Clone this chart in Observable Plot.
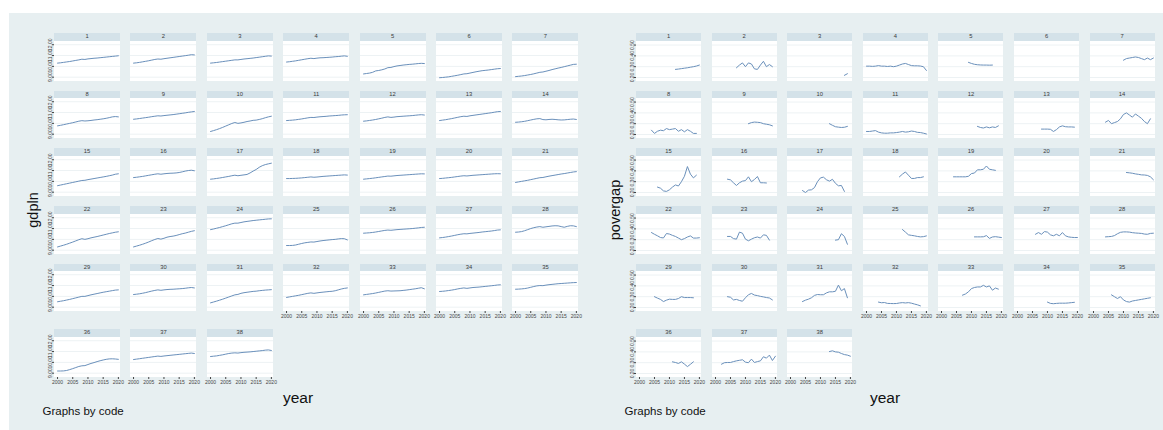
<!DOCTYPE html>
<html>
<head>
<meta charset="utf-8">
<script src="https://cdn.jsdelivr.net/npm/d3@7"></script>
<script src="https://cdn.jsdelivr.net/npm/@observablehq/plot@0.6"></script>
<style>
  body { margin: 0; background: #ffffff; font-family: "Liberation Sans", Arial, sans-serif; }
  #chart { position: relative; width: 1163px; height: 430px; overflow: hidden; background: #ffffff; }
  .bg { position: absolute; left: 9px; top: 13px; right: 0; bottom: 0; background: #e7eff1; }
  .hdr { position: absolute; background: #d4e2e9; color: #3a3a3a; font-size: 5.8px; text-align: center; }
  .ttl { position: absolute; color: #111; white-space: nowrap; line-height: 1; }
</style>
</head>
<body>
<div id="chart"><div class="bg"></div></div>
<script>
// ---- data -------------------------------------------------------------
const years = [2000, 2001, 2002, 2003, 2004, 2005, 2006, 2007, 2008, 2009, 2010,
               2011, 2012, 2013, 2014, 2015, 2016, 2017, 2018, 2019, 2020];
const codes = [1, 2, 3, 4, 5, 6, 7, 8, 9, 10, 11, 12, 13, 14, 15, 16, 17, 18, 19,
               20, 21, 22, 23, 24, 25, 26, 27, 28, 29, 30, 31, 32, 33, 34, 35, 36, 37, 38];

const yearTicks = [2000, 2005, 2010, 2015, 2020];
const gdplnTicks = [9, 10, 11, 12];
const povergapTicks = [0.2, 0.3, 0.4, 0.5];

// gdpln by code, one value per year 2000-2020
const gdpln = [
  [10.30,10.33,10.37,10.41,10.45,10.50,10.55,10.60,10.66,10.64,10.69,10.72,10.75,10.77,10.80,10.83,10.86,10.89,10.92,10.95,10.98],
  [10.30,10.33,10.37,10.42,10.47,10.52,10.58,10.64,10.68,10.66,10.71,10.75,10.79,10.83,10.87,10.91,10.95,10.99,11.03,11.08,11.06],
  [10.30,10.33,10.36,10.40,10.44,10.48,10.52,10.56,10.60,10.60,10.64,10.68,10.71,10.74,10.77,10.81,10.85,10.89,10.93,10.97,10.95],
  [10.40,10.43,10.47,10.51,10.56,10.61,10.66,10.71,10.75,10.72,10.76,10.79,10.80,10.82,10.84,10.86,10.89,10.91,10.94,10.97,10.93],
  [9.30,9.34,9.38,9.45,9.58,9.62,9.68,9.76,9.88,9.90,9.98,10.04,10.08,10.12,10.15,10.18,10.20,10.23,10.26,10.28,10.26],
  [8.95,8.97,9.00,9.03,9.08,9.13,9.18,9.24,9.30,9.32,9.38,9.44,9.50,9.55,9.60,9.63,9.66,9.70,9.74,9.78,9.80],
  [9.05,9.08,9.11,9.15,9.20,9.25,9.31,9.38,9.45,9.48,9.55,9.62,9.70,9.77,9.84,9.90,9.97,10.04,10.11,10.18,10.20],
  [9.77,9.82,9.88,9.94,10.00,10.06,10.13,10.20,10.25,10.22,10.24,10.27,10.31,10.34,10.38,10.42,10.47,10.53,10.60,10.63,10.60],
  [10.38,10.41,10.45,10.49,10.53,10.57,10.62,10.66,10.70,10.68,10.72,10.75,10.78,10.81,10.85,10.89,10.93,10.97,11.02,11.06,11.10],
  [9.25,9.33,9.42,9.52,9.63,9.75,9.87,9.99,10.08,10.00,10.04,10.10,10.17,10.22,10.28,10.30,10.36,10.43,10.52,10.60,10.66],
  [10.26,10.28,10.30,10.33,10.37,10.41,10.46,10.51,10.55,10.54,10.58,10.61,10.63,10.65,10.68,10.70,10.72,10.74,10.77,10.79,10.80],
  [10.20,10.23,10.27,10.31,10.36,10.42,10.48,10.55,10.60,10.55,10.58,10.62,10.64,10.66,10.68,10.70,10.72,10.75,10.78,10.80,10.77],
  [10.26,10.30,10.34,10.39,10.44,10.50,10.56,10.62,10.66,10.64,10.70,10.74,10.78,10.82,10.86,10.90,10.94,10.98,11.03,11.08,11.10],
  [10.10,10.12,10.15,10.19,10.25,10.31,10.37,10.42,10.44,10.35,10.33,10.36,10.38,10.36,10.33,10.31,10.32,10.35,10.38,10.40,10.36],
  [9.60,9.66,9.72,9.78,9.84,9.90,9.96,10.02,10.08,10.10,10.16,10.21,10.26,10.31,10.36,10.41,10.46,10.52,10.58,10.66,10.70],
  [10.35,10.38,10.42,10.46,10.51,10.56,10.61,10.66,10.70,10.66,10.70,10.73,10.75,10.76,10.78,10.82,10.88,10.95,11.00,11.03,10.98],
  [10.20,10.23,10.27,10.31,10.36,10.41,10.46,10.52,10.57,10.52,10.56,10.60,10.64,10.78,10.95,11.10,11.30,11.45,11.55,11.62,11.68],
  [10.26,10.26,10.27,10.28,10.30,10.32,10.35,10.38,10.41,10.38,10.40,10.43,10.46,10.48,10.50,10.52,10.54,10.56,10.58,10.60,10.58],
  [10.20,10.23,10.26,10.29,10.33,10.37,10.41,10.45,10.49,10.48,10.51,10.54,10.56,10.58,10.60,10.62,10.64,10.66,10.68,10.70,10.69],
  [10.26,10.28,10.31,10.34,10.37,10.41,10.45,10.49,10.52,10.50,10.53,10.56,10.58,10.60,10.62,10.64,10.66,10.68,10.70,10.71,10.70],
  [9.90,9.95,10.00,10.05,10.10,10.16,10.22,10.28,10.34,10.36,10.42,10.48,10.53,10.58,10.63,10.68,10.72,10.77,10.82,10.87,10.90],
  [9.30,9.38,9.46,9.55,9.65,9.75,9.86,9.97,10.06,10.00,10.06,10.14,10.20,10.26,10.33,10.40,10.47,10.54,10.60,10.66,10.70],
  [9.30,9.38,9.46,9.55,9.65,9.76,9.88,9.99,10.08,10.02,10.10,10.20,10.26,10.30,10.36,10.44,10.52,10.58,10.66,10.74,10.80],
  [10.90,10.96,11.03,11.10,11.18,11.26,11.35,11.44,11.50,11.50,11.56,11.62,11.66,11.70,11.74,11.77,11.80,11.83,11.86,11.89,11.90],
  [9.43,9.43,9.44,9.48,9.55,9.62,9.68,9.72,9.76,9.75,9.80,9.85,9.89,9.92,9.95,9.98,10.00,10.04,10.07,10.06,9.95],
  [10.57,10.59,10.61,10.64,10.68,10.73,10.78,10.83,10.86,10.84,10.87,10.90,10.92,10.94,10.96,10.98,11.00,11.03,11.06,11.10,11.12],
  [10.14,10.17,10.21,10.26,10.31,10.37,10.43,10.48,10.52,10.51,10.55,10.58,10.61,10.64,10.68,10.71,10.74,10.77,10.81,10.86,10.88],
  [10.66,10.68,10.72,10.80,10.90,11.00,11.08,11.14,11.18,11.12,11.16,11.20,11.24,11.26,11.25,11.18,11.12,11.20,11.26,11.25,11.18],
  [9.50,9.55,9.60,9.66,9.72,9.79,9.86,9.93,10.00,10.00,10.07,10.14,10.20,10.26,10.32,10.38,10.43,10.48,10.53,10.58,10.60],
  [10.17,10.20,10.24,10.29,10.35,10.42,10.49,10.55,10.60,10.56,10.60,10.63,10.65,10.66,10.68,10.70,10.72,10.75,10.79,10.82,10.78],
  [9.40,9.48,9.56,9.65,9.74,9.84,9.94,10.04,10.14,10.18,10.28,10.34,10.38,10.42,10.46,10.48,10.52,10.55,10.58,10.60,10.62],
  [9.90,9.95,10.00,10.05,10.10,10.16,10.22,10.28,10.32,10.28,10.32,10.36,10.39,10.42,10.45,10.47,10.52,10.60,10.68,10.74,10.78],
  [10.14,10.18,10.22,10.26,10.31,10.37,10.43,10.49,10.52,10.49,10.50,10.51,10.52,10.55,10.58,10.62,10.66,10.70,10.75,10.80,10.70],
  [10.45,10.47,10.50,10.54,10.58,10.63,10.69,10.74,10.78,10.74,10.78,10.82,10.84,10.86,10.89,10.92,10.95,10.98,11.01,11.05,11.07],
  [10.66,10.67,10.69,10.72,10.77,10.84,10.91,10.97,11.00,10.99,11.04,11.08,11.11,11.14,11.17,11.19,11.21,11.23,11.25,11.27,11.28],
  [9.20,9.20,9.21,9.25,9.33,9.42,9.52,9.62,9.68,9.70,9.80,9.90,9.98,10.07,10.15,10.22,10.28,10.32,10.33,10.31,10.28],
  [10.26,10.30,10.34,10.38,10.42,10.46,10.50,10.54,10.58,10.55,10.59,10.62,10.65,10.68,10.71,10.74,10.77,10.80,10.83,10.86,10.82],
  [10.54,10.57,10.60,10.65,10.70,10.76,10.82,10.86,10.88,10.86,10.90,10.93,10.95,10.97,11.00,11.03,11.06,11.09,11.13,11.15,11.10]
];

// povergap by code: first observed year, then consecutive yearly values
const povergapStart = [2012, 2007, 2018, 2000, 2009, null, 2010, 2004, 2011, 2013,
                       2000, 2012, 2008, 2004, 2006, 2004, 2004, 2011, 2004, null,
                       2011, 2004, 2004, 2015, 2012, 2011, 2006, 2004, 2005, 2004,
                       2004, 2004, 2007, 2010, 2006, 2011, 2002, 2013];
const povergap = [
  [0.275,0.278,0.282,0.286,0.290,0.295,0.300,0.306,0.315],
  [0.290,0.315,0.335,0.300,0.335,0.325,0.280,0.275,0.315,0.350,0.300,0.320,0.300],
  [0.220,0.235],
  [0.305,0.305,0.303,0.305,0.310,0.305,0.305,0.302,0.305,0.300,0.305,0.315,0.325,0.330,0.320,0.310,0.308,0.308,0.306,0.300,0.265],
  [0.340,0.330,0.322,0.318,0.316,0.315,0.315,0.314,0.315],
  [],
  [0.360,0.375,0.380,0.385,0.390,0.385,0.375,0.365,0.380,0.365,0.380],
  [0.240,0.210,0.230,0.240,0.235,0.255,0.245,0.250,0.255,0.230,0.245,0.225,0.245,0.230,0.210,0.210],
  [0.300,0.310,0.315,0.313,0.310,0.300,0.295,0.290,0.280],
  [0.300,0.285,0.272,0.268,0.265,0.267,0.275],
  [0.228,0.228,0.232,0.236,0.222,0.215,0.212,0.212,0.215,0.215,0.218,0.222,0.228,0.222,0.225,0.232,0.228,0.220,0.218,0.212,0.205],
  [0.275,0.265,0.260,0.270,0.262,0.270,0.265,0.280],
  [0.250,0.250,0.250,0.248,0.228,0.245,0.270,0.280,0.272,0.270,0.270,0.268],
  [0.314,0.330,0.300,0.310,0.320,0.345,0.385,0.400,0.380,0.360,0.390,0.370,0.350,0.320,0.300,0.345],
  [0.250,0.240,0.215,0.210,0.225,0.250,0.270,0.260,0.300,0.350,0.440,0.370,0.335,0.360],
  [0.323,0.317,0.290,0.265,0.290,0.305,0.310,0.345,0.300,0.320,0.348,0.290,0.290,0.288],
  [0.218,0.200,0.222,0.225,0.245,0.300,0.335,0.342,0.318,0.305,0.322,0.285,0.262,0.265,0.210],
  [0.345,0.370,0.390,0.360,0.330,0.330,0.338,0.338,0.345],
  [0.345,0.345,0.345,0.345,0.345,0.350,0.375,0.380,0.410,0.410,0.415,0.445,0.415,0.410,0.405],
  [],
  [0.385,0.382,0.378,0.372,0.368,0.363,0.362,0.358,0.345,0.318],
  [0.366,0.350,0.336,0.320,0.316,0.357,0.352,0.340,0.330,0.315,0.300,0.310,0.325,0.335,0.315,0.315,0.318],
  [0.330,0.330,0.310,0.305,0.370,0.360,0.305,0.290,0.305,0.318,0.325,0.315,0.345,0.340,0.296],
  [0.296,0.300,0.355,0.330,0.258],
  [0.394,0.370,0.345,0.340,0.336,0.330,0.326,0.328,0.335],
  [0.326,0.326,0.326,0.327,0.338,0.312,0.325,0.328,0.324,0.320],
  [0.350,0.366,0.350,0.375,0.370,0.345,0.336,0.350,0.336,0.366,0.336,0.326,0.322,0.320,0.320],
  [0.326,0.328,0.330,0.338,0.355,0.368,0.372,0.372,0.370,0.365,0.362,0.360,0.358,0.352,0.350,0.358,0.360],
  [0.300,0.287,0.275,0.255,0.268,0.277,0.275,0.275,0.283,0.300,0.292,0.292,0.292,0.290],
  [0.300,0.295,0.270,0.275,0.265,0.258,0.290,0.318,0.330,0.315,0.310,0.303,0.298,0.292,0.288,0.270],
  [0.255,0.268,0.277,0.290,0.312,0.320,0.318,0.318,0.335,0.345,0.345,0.350,0.407,0.355,0.375,0.290],
  [0.250,0.244,0.246,0.238,0.237,0.236,0.237,0.242,0.245,0.242,0.245,0.240,0.232,0.225,0.215],
  [0.314,0.325,0.345,0.375,0.385,0.390,0.390,0.405,0.390,0.400,0.360,0.380,0.370],
  [0.250,0.238,0.235,0.238,0.240,0.240,0.240,0.242,0.245,0.248],
  [0.317,0.300,0.283,0.300,0.270,0.255,0.250,0.260,0.265,0.270,0.275,0.280,0.285,0.290],
  [0.308,0.302,0.293,0.308,0.287,0.264,0.285,0.308],
  [0.286,0.300,0.302,0.302,0.310,0.317,0.322,0.327,0.305,0.300,0.333,0.302,0.310,0.317,0.355,0.342,0.370,0.320,0.360],
  [0.403,0.410,0.400,0.397,0.385,0.375,0.370,0.360]
];

// ---- layout -----------------------------------------------------------
const chart = document.getElementById("chart");
const FONT = '"Liberation Sans", Arial, Helvetica, sans-serif';
const LINE = "#6a90bb";
const GRID = "#edf2f4";
const hdrTops = [33, 90.7, 148.4, 206, 263.6, 329.3];
const hdrH = 7.7;
const plotH = 40;
const nCols = 7;

function seriesRows(k, which) {
  if (which === "gdpln") {
    return years.map((yr, j) => ({year: yr, value: gdpln[k][j]}));
  }
  const start = povergapStart[k];
  return povergap[k].map((v, j) => ({year: start + j, value: v}));
}

function addText(txt, css) {
  const d = document.createElement("div");
  d.className = "ttl";
  d.textContent = txt;
  Object.assign(d.style, css);
  chart.appendChild(d);
}

function drawPanel(cfg) {
  codes.forEach((code, k) => {
    const row = Math.floor(k / nCols);
    const col = k % nCols;
    const left = cfg.x0 + cfg.dx * col;
    const top = hdrTops[row];
    const showX = k + nCols >= codes.length;
    const showY = col === 0;

    const h = document.createElement("div");
    h.className = "hdr";
    Object.assign(h.style, {left: left + "px", top: top + "px", width: cfg.w + "px",
      height: hdrH + "px", lineHeight: hdrH + "px"});
    h.textContent = code;
    chart.appendChild(h);

    const svg = Plot.plot({
      width: cfg.w,
      height: plotH,
      marginTop: 0, marginRight: 0, marginBottom: 0, marginLeft: 0,
      style: {
        position: "absolute", left: left + "px", top: (top + hdrH) + "px",
        background: "#ffffff", overflow: "visible", fontFamily: FONT,
        fontSize: "5px", color: "#444"
      },
      x: {
        domain: [1999, 2020.7],
        axis: showX ? "bottom" : null,
        ticks: yearTicks, tickFormat: d => String(d), tickSize: 2, tickPadding: 1, label: null
      },
      y: {
        domain: cfg.domain,
        axis: showY ? "left" : null,
        ticks: cfg.ticks, tickFormat: d3.format(".2f"), tickRotate: -90,
        tickSize: 2, tickPadding: 1, label: null
      },
      marks: [
        Plot.ruleY(cfg.ticks, {stroke: GRID, strokeWidth: 1}),
        Plot.line(seriesRows(k, cfg.field), {x: "year", y: "value", stroke: LINE, strokeWidth: 1})
      ]
    });
    chart.appendChild(svg);
  });

  addText(cfg.field, {left: cfg.ytX + "px", top: "210px", fontSize: "14.5px",
    transform: "translate(-50%, -50%) rotate(-90deg)"});
  addText("year", {left: cfg.xtX + "px", top: "398px", fontSize: "15.5px",
    transform: "translate(-50%, -50%)"});
  addText("Graphs by code", {left: cfg.noteX + "px", top: "406px", fontSize: "11.5px"});
}

drawPanel({field: "gdpln", x0: 54, dx: 76.4, w: 66, domain: [8.6, 12.3],
  ticks: gdplnTicks, ytX: 33, xtX: 298, noteX: 42.5});
drawPanel({field: "povergap", x0: 636, dx: 75.6, w: 65, domain: [0.163, 0.533],
  ticks: povergapTicks, ytX: 615, xtX: 885, noteX: 624.5});
</script>
</body>
</html>
